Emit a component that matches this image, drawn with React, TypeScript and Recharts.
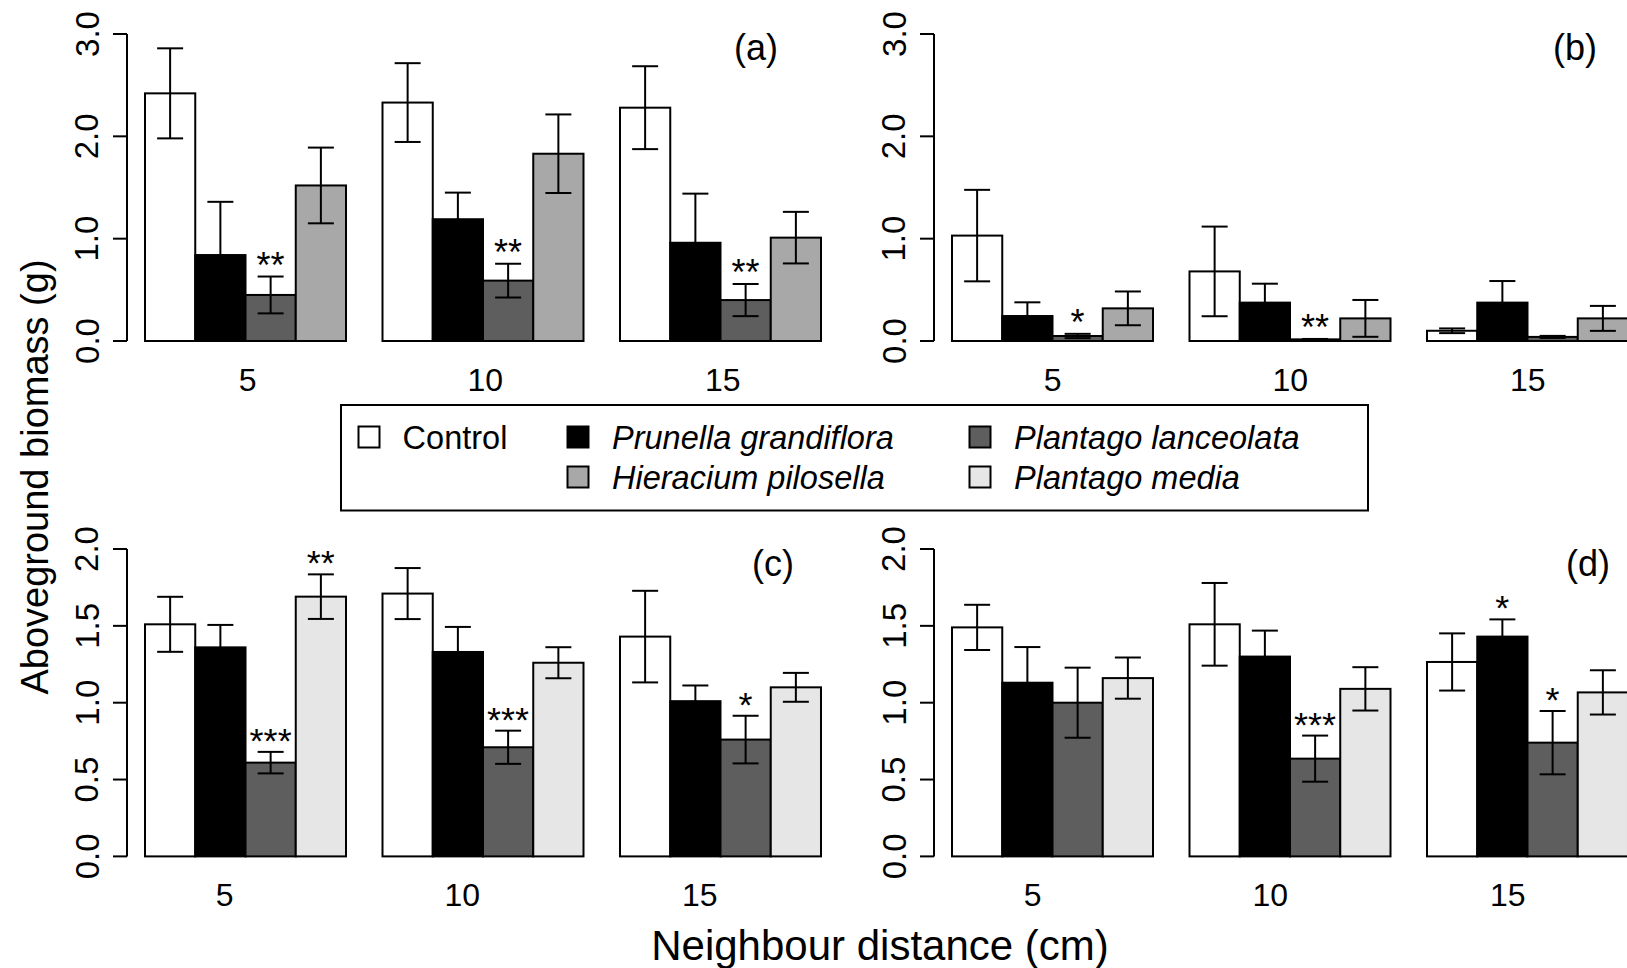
import React from 'react';
import { BarChart, Bar, XAxis, YAxis, ErrorBar } from 'recharts';

const FONT = '"Liberation Sans", Arial, Helvetica, sans-serif';

const distances = ['5', '10', '15'];

// Colours of the neighbour treatments
const cControl = '#ffffff';
const cPrunella = '#000000';
const cLanceolata = '#5e5e5e';
const cHieracium = '#a8a8a8';
const cMedia = '#e6e6e6';

// Panel (a)
const aControl = [2.42, 2.33, 2.28];
const aControlSe = [0.44, 0.385, 0.405];
const aPrunella = [0.84, 1.19, 0.96];
const aPrunellaSe = [0.52, 0.26, 0.48];
const aLanceolata = [0.45, 0.59, 0.4];
const aLanceolataSe = [0.18, 0.165, 0.157];
const aHieracium = [1.52, 1.83, 1.01];
const aHieraciumSe = [0.37, 0.384, 0.252];
const aLanceolataStars = ['**', '**', '**'];

// Panel (b)
const bControl = [1.03, 0.68, 0.1];
const bControlSe = [0.447, 0.438, 0.023];
const bPrunella = [0.244, 0.375, 0.375];
const bPrunellaSe = [0.134, 0.185, 0.211];
const bLanceolata = [0.049, 0.016, 0.04];
const bLanceolataSe = [0.021, 0.004, 0.01];
const bHieracium = [0.319, 0.221, 0.221];
const bHieraciumSe = [0.165, 0.18, 0.122];
const bLanceolataStars = ['*', '**', ''];

// Panel (c)
const cControlV = [1.51, 1.71, 1.43];
const cControlSe = [0.179, 0.166, 0.298];
const cPrunellaV = [1.36, 1.33, 1.01];
const cPrunellaSe = [0.146, 0.163, 0.102];
const cLanceolataV = [0.61, 0.71, 0.76];
const cLanceolataSe = [0.07, 0.108, 0.155];
const cMediaV = [1.69, 1.26, 1.1];
const cMediaSe = [0.145, 0.101, 0.094];
const cLanceolataStars = ['***', '***', '*'];
const cMediaStars = ['**', '', ''];

// Panel (d)
const dControl = [1.49, 1.51, 1.265];
const dControlSe = [0.147, 0.269, 0.186];
const dPrunella = [1.13, 1.3, 1.43];
const dPrunellaSe = [0.232, 0.169, 0.112];
const dLanceolata = [1.0, 0.636, 0.74];
const dLanceolataSe = [0.228, 0.15, 0.206];
const dMedia = [1.16, 1.09, 1.067];
const dMediaSe = [0.134, 0.141, 0.144];
const dPrunellaStars = ['', '', '*'];
const dLanceolataStars = ['', '***', '*'];

const topTicks = [0, 1, 2, 3];
const bottomTicks = [0, 0.5, 1, 1.5, 2];

type SeriesDef = { key: string; fill: string; values: number[]; se: number[]; stars?: string[] };

function buildRows(series: SeriesDef[]) {
  return distances.map((d, i) => {
    const row: any = { dist: d };
    series.forEach((s) => {
      row[s.key] = s.values[i];
      row[s.key + 'Err'] = s.se[i];
      row[s.key + 'Star'] = s.stars ? s.stars[i] : '';
    });
    return row;
  });
}

const makeShape = (key: string, fill: string) => (props: any) => {
  const { x, y, width, height, payload } = props;
  const val = payload[key];
  const se = payload[key + 'Err'];
  const star = payload[key + 'Star'];
  const pxPer = val > 0 ? height / val : 0;
  const errTop = y - se * pxPer;
  return (
    <g>
      <rect x={x} y={y} width={width} height={height} fill={fill} stroke="#000" strokeWidth={2} />
      {star ? (
        <text x={x + width / 2} y={errTop + 1} textAnchor="middle" fontSize={36} fontFamily={FONT} fill="#000">
          {star}
        </text>
      ) : null}
    </g>
  );
};

const XTick = (props: any) => {
  const { x, y, payload, shiftX } = props;
  return (
    <text x={x + (shiftX || 0)} y={y + 50} textAnchor="middle" fontSize={32} fontFamily={FONT} fill="#000">
      {payload.value}
    </text>
  );
};

const YTick = (props: any) => {
  const { x, y, payload } = props;
  const cx = x - 26;
  return (
    <text
      x={cx}
      y={y}
      transform={`rotate(-90 ${cx} ${y})`}
      textAnchor="middle"
      dominantBaseline="central"
      fontSize={33}
      fontFamily={FONT}
      fill="#000"
    >
      {Number(payload.value).toFixed(1)}
    </text>
  );
};

function Panel(props: {
  left: number;
  top: number;
  plotHeight: number;
  series: SeriesDef[];
  yMax: number;
  yTicks: number[];
  shiftX: number;
}) {
  const { left, top, plotHeight, series, yMax, yTicks, shiftX } = props;
  const data = buildRows(series);
  return (
    <div style={{ position: 'absolute', left, top }}>
      <BarChart
        width={792.5}
        height={34 + plotHeight + 60}
        data={data}
        margin={{ top: 34, right: 0, bottom: 0, left: 0 }}
        barSize={50.25}
        barGap={0}
        barCategoryGap={18.25}
      >
        <XAxis
          dataKey="dist"
          axisLine={false}
          tickLine={false}
          tickSize={0}
          tickMargin={0}
          height={60}
          interval={0}
          tick={<XTick shiftX={shiftX} />}
        />
        <YAxis
          type="number"
          domain={[0, yMax]}
          ticks={yTicks}
          interval={0}
          width={80}
          tickSize={14}
          tickMargin={0}
          axisLine={{ stroke: '#000', strokeWidth: 2 }}
          tickLine={{ stroke: '#000', strokeWidth: 2 }}
          tick={<YTick />}
        />
        {series.map((s) => (
          <Bar key={s.key} dataKey={s.key} fill={s.fill} isAnimationActive={false} shape={makeShape(s.key, s.fill)}>
            <ErrorBar
              dataKey={s.key + 'Err'}
              width={13}
              stroke="#000"
              strokeWidth={2}
              direction="y"
              isAnimationActive={false}
            />
          </Bar>
        ))}
      </BarChart>
    </div>
  );
}

const seriesA: SeriesDef[] = [
  { key: 'control', fill: cControl, values: aControl, se: aControlSe },
  { key: 'prunella', fill: cPrunella, values: aPrunella, se: aPrunellaSe },
  { key: 'lanceolata', fill: cLanceolata, values: aLanceolata, se: aLanceolataSe, stars: aLanceolataStars },
  { key: 'hieracium', fill: cHieracium, values: aHieracium, se: aHieraciumSe },
];
const seriesB: SeriesDef[] = [
  { key: 'control', fill: cControl, values: bControl, se: bControlSe },
  { key: 'prunella', fill: cPrunella, values: bPrunella, se: bPrunellaSe },
  { key: 'lanceolata', fill: cLanceolata, values: bLanceolata, se: bLanceolataSe, stars: bLanceolataStars },
  { key: 'hieracium', fill: cHieracium, values: bHieracium, se: bHieraciumSe },
];
const seriesC: SeriesDef[] = [
  { key: 'control', fill: cControl, values: cControlV, se: cControlSe },
  { key: 'prunella', fill: cPrunella, values: cPrunellaV, se: cPrunellaSe },
  { key: 'lanceolata', fill: cLanceolata, values: cLanceolataV, se: cLanceolataSe, stars: cLanceolataStars },
  { key: 'media', fill: cMedia, values: cMediaV, se: cMediaSe, stars: cMediaStars },
];
const seriesD: SeriesDef[] = [
  { key: 'control', fill: cControl, values: dControl, se: dControlSe },
  { key: 'prunella', fill: cPrunella, values: dPrunella, se: dPrunellaSe, stars: dPrunellaStars },
  { key: 'lanceolata', fill: cLanceolata, values: dLanceolata, se: dLanceolataSe, stars: dLanceolataStars },
  { key: 'media', fill: cMedia, values: dMedia, se: dMediaSe },
];

const legendItems = [
  { label: 'Control', fill: cControl, italic: false, sx: 369, tx: 402.6, row: 0 },
  { label: 'Prunella grandiflora', fill: cPrunella, italic: true, sx: 578, tx: 612, row: 0 },
  { label: 'Plantago lanceolata', fill: cLanceolata, italic: true, sx: 980, tx: 1014, row: 0 },
  { label: 'Hieracium pilosella', fill: cHieracium, italic: true, sx: 578, tx: 612, row: 1 },
  { label: 'Plantago media', fill: cMedia, italic: true, sx: 980, tx: 1014, row: 1 },
];

export default function App() {
  const rowY = [437, 477];
  return (
    <div
      style={{
        position: 'absolute',
        left: 0,
        top: 0,
        width: 1627,
        height: 968,
        overflow: 'hidden',
        background: '#fff',
      }}
    >
      <Panel left={47} top={0} plotHeight={307} series={seriesA} yMax={3} yTicks={topTicks} shiftX={2} />
      <Panel left={854} top={0} plotHeight={307} series={seriesB} yMax={3} yTicks={topTicks} shiftX={0} />
      <Panel left={47} top={515.3} plotHeight={307.4} series={seriesC} yMax={2} yTicks={bottomTicks} shiftX={-21} />
      <Panel left={854} top={515.3} plotHeight={307.4} series={seriesD} yMax={2} yTicks={bottomTicks} shiftX={-20} />
      <svg
        width={1627}
        height={968}
        style={{ position: 'absolute', left: 0, top: 0, pointerEvents: 'none' }}
        fontFamily={FONT}
      >
        <text x={756} y={60} textAnchor="middle" fontSize={36} fill="#000">(a)</text>
        <text x={1575} y={60} textAnchor="middle" fontSize={36} fill="#000">(b)</text>
        <text x={773} y={576} textAnchor="middle" fontSize={36} fill="#000">(c)</text>
        <text x={1588} y={576} textAnchor="middle" fontSize={36} fill="#000">(d)</text>
        <text
          x={35}
          y={477}
          transform="rotate(-90 35 477)"
          textAnchor="middle"
          dominantBaseline="central"
          fontSize={38}
          fill="#000"
        >
          Aboveground biomass (g)
        </text>
        <text x={880} y={960} textAnchor="middle" fontSize={42} fill="#000">
          Neighbour distance (cm)
        </text>
        <rect x={341} y={405} width={1027} height={105.5} fill="#fff" stroke="#000" strokeWidth={2} />
        {legendItems.map((it) => (
          <g key={it.label}>
            <rect
              x={it.sx - 10.5}
              y={rowY[it.row] - 10.5}
              width={21}
              height={21}
              fill={it.fill}
              stroke="#000"
              strokeWidth={2}
            />
            <text
              x={it.tx}
              y={rowY[it.row] + 11.5}
              fontSize={32.5}
              fontStyle={it.italic ? 'italic' : 'normal'}
              fill="#000"
            >
              {it.label}
            </text>
          </g>
        ))}
      </svg>
    </div>
  );
}
